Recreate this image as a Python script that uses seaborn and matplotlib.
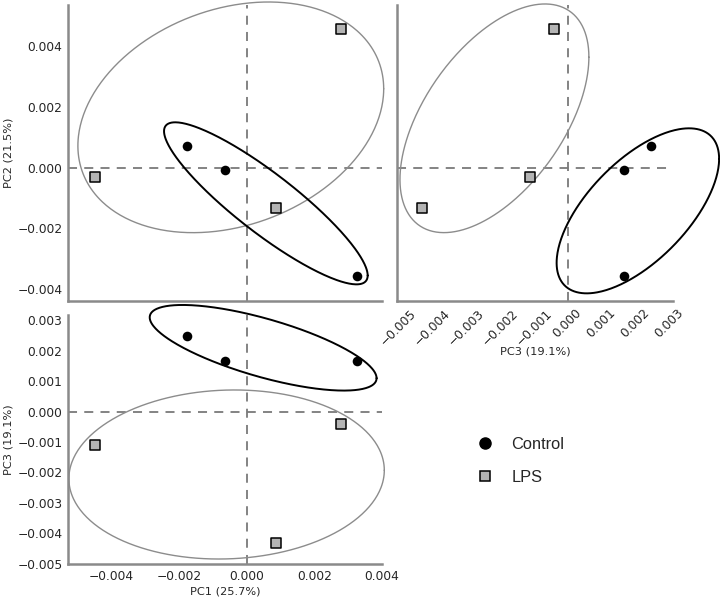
import numpy as np
import pandas as pd
import matplotlib
matplotlib.use("Agg")
import matplotlib.pyplot as plt
from matplotlib.lines import Line2D
import seaborn as sns

sns.set_style("white")
plt.rcParams['font.family'] = ['DejaVu Sans']

# ---- data ----
groups = ["Control", "Control", "Control", "LPS", "LPS", "LPS"]
pc1 = [-0.00177, -0.00064, 0.00326, -0.00447, 0.00087, 0.00278]
pc2 = [0.00072, -0.00007, -0.00358, -0.00030, -0.00133, 0.00456]
pc3 = [0.00248, 0.00168, 0.00166, -0.00111, -0.00432, -0.00040]

pc1_label = "PC1 (25.7%)"
pc2_label = "PC2 (21.5%)"
pc3_label = "PC3 (19.1%)"

# ellipses: centre x, centre y, half-width, half-height, correlation (data units)
ell_pc1_pc2_control = [0.000571, -0.001173, 0.003006, 0.002669, -0.89]
ell_pc1_pc2_lps = [-0.000464, 0.00166, 0.004514, 0.003799, 0.247]
ell_pc3_pc2_control = [0.00208, -0.00142, 0.002405, 0.002718, 0.63]
ell_pc3_pc2_lps = [-0.002166, 0.001628, 0.002796, 0.003766, 0.535]
ell_pc1_pc3_control = [0.000491, 0.002102, 0.003349, 0.001408, -0.71]
ell_pc1_pc3_lps = [-0.000588, -0.002066, 0.004656, 0.00278, 0.05]

pc1_ticks = [-0.004, -0.002, 0.0, 0.002, 0.004]
pc2_ticks = [-0.004, -0.002, 0.0, 0.002, 0.004]
pc3_ticks_x = [-0.005, -0.004, -0.003, -0.002, -0.001, 0.0, 0.001, 0.002, 0.003]
pc3_ticks_y = [-0.005, -0.004, -0.003, -0.002, -0.001, 0.0, 0.001, 0.002, 0.003]

df = pd.DataFrame({"group": groups, "PC1": pc1, "PC2": pc2, "PC3": pc3})

W, H = 720, 597
fig = plt.figure(figsize=(W / 100, H / 100), dpi=100)

def box(l, r, t, b):
    return [l / W, (H - b) / H, (r - l) / W, (b - t) / H]

ax_tl = fig.add_axes(box(68, 382, 5, 301))
ax_tr = fig.add_axes(box(397, 673, 5, 301))
ax_b = fig.add_axes(box(68, 382, 315, 564))

spine_col = "#8a8a8a"
dash_col = "#7a7a7a"
palette = {"Control": "black", "LPS": "#b4b4b4"}
markers = {"Control": "o", "LPS": "s"}

def draw_ellipse(ax, p, color, lw):
    cx, cy, sx, sy, r = p
    t = np.linspace(0, 2 * np.pi, 400)
    u, v = np.cos(t), np.sin(t)
    x = cx + sx * u
    y = cy + r * sy * u + sy * np.sqrt(1 - r * r) * v
    ax.plot(x, y, color=color, lw=lw, clip_on=False, zorder=2)

def fmt(v):
    return "0.000" if v == 0 else f"{v:.3f}".replace("-", "\u2212")

def style(ax, xlim, ylim, xt, yt, xlabels=True, ylabels=True):
    ax.set_xlim(*xlim)
    ax.set_ylim(*ylim)
    ax.axhline(0, color=dash_col, lw=1.3, ls=(0, (5, 4)), zorder=1)
    ax.axvline(0, color=dash_col, lw=1.3, ls=(0, (5, 4)), zorder=1)
    for s in ["top", "right"]:
        ax.spines[s].set_visible(False)
    for s in ["left", "bottom"]:
        ax.spines[s].set_color(spine_col)
        ax.spines[s].set_linewidth(1.8)
    ax.set_xticks(xt)
    ax.set_yticks(yt)
    ax.tick_params(direction="in", length=5, width=1.2, color=spine_col,
                   labelsize=8.8, pad=4)
    ax.set_xticklabels([fmt(v) for v in xt] if xlabels else [])
    ax.set_yticklabels([fmt(v) for v in yt] if ylabels else [])
    ax.set_xlabel("")
    ax.set_ylabel("")

def points(ax, x, y):
    for g in ("Control", "LPS"):
        sub = df[df["group"] == g]
        sns.scatterplot(data=sub, x=x, y=y, ax=ax, color=palette[g],
                        marker=markers[g], s=48, edgecolor="black",
                        linewidth=1.1 if g == "LPS" else 0, legend=False, zorder=3)

# top-left: PC1 vs PC2
draw_ellipse(ax_tl, ell_pc1_pc2_lps, "#8c8c8c", 1.0)
draw_ellipse(ax_tl, ell_pc1_pc2_control, "black", 1.4)
points(ax_tl, "PC1", "PC2")
style(ax_tl, (-0.00527, 0.004), (-0.00439, 0.00536), pc1_ticks, pc2_ticks, xlabels=False)
ax_tl.set_ylabel(pc2_label, fontsize=8.2, labelpad=3)

# top-right: PC3 vs PC2
draw_ellipse(ax_tr, ell_pc3_pc2_lps, "#8c8c8c", 1.0)
draw_ellipse(ax_tr, ell_pc3_pc2_control, "black", 1.4)
points(ax_tr, "PC3", "PC2")
style(ax_tr, (-0.00505, 0.00312), (-0.00439, 0.00536), pc3_ticks_x, pc2_ticks, ylabels=False)
for lab in ax_tr.get_xticklabels():
    lab.set_rotation(45)
    lab.set_ha("center")
ax_tr.set_xlabel(pc3_label, fontsize=8.2, labelpad=-1)

# bottom: PC1 vs PC3
draw_ellipse(ax_b, ell_pc1_pc3_lps, "#8c8c8c", 1.0)
draw_ellipse(ax_b, ell_pc1_pc3_control, "black", 1.4)
points(ax_b, "PC1", "PC3")
style(ax_b, (-0.00527, 0.004), (-0.00501, 0.00318), pc1_ticks, pc3_ticks_y)
ax_b.set_xlabel(pc1_label, fontsize=8.2, labelpad=3)
ax_b.set_ylabel(pc3_label, fontsize=8.2, labelpad=3)

# legend
handles = [
    Line2D([], [], ls="none", marker="o", markersize=8, markerfacecolor="black",
           markeredgecolor="black", label="Control"),
    Line2D([], [], ls="none", marker="s", markersize=7.5, markerfacecolor="#b4b4b4",
           markeredgecolor="black", markeredgewidth=1.1, label="LPS"),
]
fig.legend(handles=handles, loc="upper left", bbox_to_anchor=(454 / W, 1 - 422 / H),
           frameon=False, handletextpad=0.6, labelspacing=1.1,
           prop={"family": "Liberation Sans", "size": 11.8})

fig.savefig("out.png", dpi=100)
